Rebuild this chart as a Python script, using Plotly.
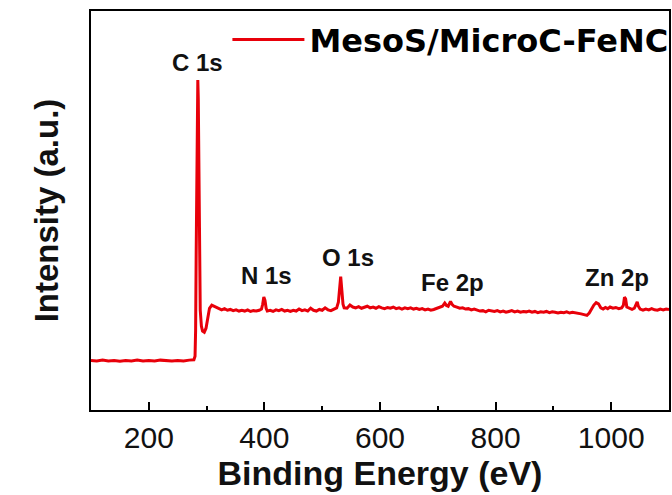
import plotly.graph_objects as go

energy = [100, 110, 120, 130, 140, 150, 160, 170, 180, 190, 200, 210, 220, 230, 240, 250, 260, 270, 278,
          280, 281, 282, 283, 284, 284.8, 285.6, 286.5, 287.5, 289, 291, 293, 296, 299, 302, 305, 309, 313, 317,
          321, 326, 331, 336, 341, 346, 351, 356, 361, 366, 371, 376, 381, 386, 391, 395, 397, 399, 401, 403,
          405, 410, 415, 420, 425, 430, 435, 440, 445, 450, 455, 460, 465, 470, 475, 480, 485, 490, 495, 500,
          505, 510, 515, 520, 525, 528, 530, 532, 534, 536, 538, 543, 548, 553, 558, 563, 568, 573, 578, 583,
          588, 593, 598, 603, 608, 613, 618, 623, 628, 633, 638, 643, 648, 653, 658, 663, 668, 673, 678, 683,
          688, 693, 698, 703, 708, 712, 715, 718, 722, 725, 728, 733, 738, 743, 748, 753, 758, 763, 768, 773,
          778, 783, 788, 793, 798, 803, 808, 813, 818, 823, 828, 833, 838, 843, 848, 853, 858, 863, 868, 873,
          878, 883, 888, 893, 898, 903, 908, 913, 918, 923, 928, 933, 938, 943, 948, 953, 958, 962, 966, 970,
          974, 978, 982, 986, 990, 994, 998, 1003, 1008, 1013, 1018, 1021, 1023, 1025, 1027, 1031, 1036, 1040,
          1043, 1045, 1047, 1050, 1055, 1060, 1065, 1070, 1075, 1080, 1085, 1090, 1095, 1100]

intensity = [12.4, 12.3, 12.5, 12.3, 12.4, 12.2, 12.4, 12.3, 12.5, 12.3, 12.4, 12.3, 12.5, 12.4, 12.3, 12.4, 12.3, 12.5, 12.6,
             13.5, 20, 40, 65, 80, 82.7, 78, 60, 40, 25, 21, 19.8, 19.5, 20.5, 23, 25.5, 26.3, 26.0, 25.6,
             25.3, 25.1, 25.4, 25.0, 25.2, 24.9, 25.1, 24.8, 25.0, 24.8, 25.1, 24.7, 24.9, 24.8, 25.0, 25.3, 26.5, 28.3, 27.5, 25.5,
             24.8, 25.0, 24.7, 25.1, 24.9, 25.2, 24.8, 25.0, 24.7, 25.0, 24.8, 25.3, 24.9, 25.1, 24.8, 25.5, 25.0, 24.8, 25.2, 25.0,
             25.6, 25.1, 24.9, 25.2, 25.6, 27.0, 31.0, 33.4, 30.0, 26.5, 25.6, 25.5, 26.3, 25.8, 25.6, 25.9, 25.5, 25.8, 26.0, 25.6,
             25.8, 25.5, 25.9, 25.6, 25.4, 25.7, 25.5, 25.8, 25.4, 25.6, 25.3, 25.6, 25.4, 25.6, 25.3, 25.5, 25.2, 25.4, 25.1, 25.3,
             25.0, 25.2, 25.5, 25.8, 26.0, 26.8, 26.2, 26.0, 27.2, 26.4, 26.0, 25.8, 25.5, 25.6, 25.3, 25.4, 25.1, 25.3, 25.0, 24.8,
             24.9, 24.6, 25.0, 24.8, 24.7, 24.9, 24.6, 24.8, 24.5, 24.7, 24.9, 24.6, 24.8, 24.5, 24.7, 24.6, 24.8, 24.5, 24.7, 24.4,
             24.6, 24.5, 24.7, 24.4, 24.6, 24.5, 24.3, 24.5, 24.4, 24.6, 24.3, 24.5, 24.4, 24.3, 24.1, 23.9, 23.7, 24.3, 25.3, 26.3,
             26.9, 26.6, 25.6, 25.3, 25.7, 25.4, 25.8, 25.5, 25.7, 25.4, 25.6, 26.2, 28.3, 27.8, 25.8, 25.5, 25.2, 25.5,
             26.5, 27.1, 26.0, 25.3, 25.0, 25.3, 25.1, 25.4, 25.1, 25.0, 25.3, 25.1, 25.3, 25.2]

peak_labels = ["C 1s", "N 1s", "O 1s", "Fe 2p", "Zn 2p"]
label_x = [285, 403, 545, 726, 1010]
label_y = [87, 33.6, 38.3, 32, 33.3]

series_name = "MesoS/MicroC-FeNC"

fig = go.Figure()
fig.add_trace(go.Scatter(x=energy, y=intensity, mode="lines", name=series_name,
                         line=dict(color="#e8000a", width=3)))

for t, xx, yy in zip(peak_labels, label_x, label_y):
    fig.add_annotation(x=xx, y=yy, text="<b>" + t + "</b>", showarrow=False,
                       font=dict(family="Liberation Sans, Arial", size=24, color="#111111"))

fig.update_layout(
    width=672, height=495,
    margin=dict(l=91, r=3, t=11, b=85, autoexpand=False),
    paper_bgcolor="white", plot_bgcolor="white",
    font=dict(family="Liberation Sans, Arial", color="#111111"),
    showlegend=True,
    legend=dict(x=0.236, y=0.997, xanchor="left", yanchor="top", itemwidth=72,
                bgcolor="rgba(0,0,0,0)",
                font=dict(family="DejaVu Sans", size=32, color="black", weight="bold")),
    xaxis=dict(range=[100, 1100], showline=True, linecolor="black", linewidth=2, mirror=True,
               ticks="inside", ticklen=8, tickwidth=2, tickcolor="black",
               tickvals=[200, 400, 600, 800, 1000],
               tickfont=dict(size=30, family="Liberation Sans, Arial", color="#111111"),
               minor=dict(ticks="inside", ticklen=4, tickwidth=2, tickcolor="black", dtick=100, tick0=100),
               showgrid=False, zeroline=False,
               title=dict(text="<b>Binding Energy (eV)</b>", font=dict(size=34, color="#111111"), standoff=2)),
    yaxis=dict(range=[0, 100], showline=True, linecolor="black", linewidth=2, mirror=True,
               ticks="", showticklabels=False, showgrid=False, zeroline=False,
               title=dict(text="<b>Intensity (a.u.)</b>", font=dict(size=33, color="#111111"), standoff=20)),
)

fig.write_html("out.html")
